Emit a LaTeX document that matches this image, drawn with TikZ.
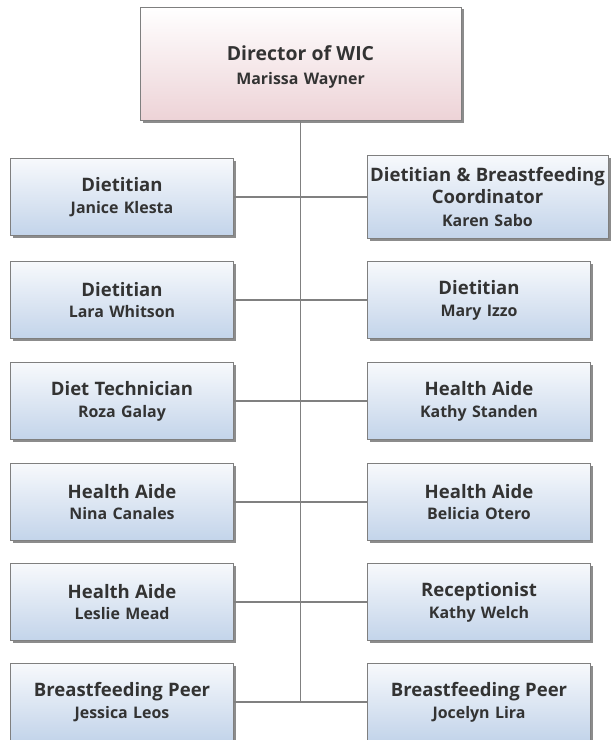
\documentclass[tikz,border=0pt]{standalone}
\usepackage{fontspec}
\setmainfont{Open Sans}
\usetikzlibrary{shadows}
\definecolor{txt}{HTML}{333333}
\definecolor{bordergray}{HTML}{7F7F7F}
\definecolor{linegray}{HTML}{808080}
\definecolor{bluebot}{HTML}{C3D4EA}
\definecolor{bluetop}{HTML}{F7F9FC}
\definecolor{pinkbot}{HTML}{EDD3D7}
\newcommand{\rtitle}{\fontsize{18.6}{24}\selectfont\bfseries}
\newcommand{\rname}{\fontsize{16}{22}\selectfont\bfseries}
\tikzset{
  boxbase/.style={draw=bordergray, line width=0.9bp, align=center, text=txt,
    inner sep=2bp,
    drop shadow={shadow xshift=2.5bp, shadow yshift=-2.5bp, fill=black!60, opacity=0.75}},
  member/.style={boxbase, top color=bluetop, bottom color=bluebot,
    minimum height=77bp, font=\rname},
  leftbox/.style={member, minimum width=223bp, text width=217bp},
  rightbox/.style={member, minimum width=223bp, text width=217bp},
  headbox/.style={boxbase, top color=white, bottom color=pinkbot,
    minimum width=321bp, minimum height=113bp},
  headtext/.style={align=center, text=txt, text width=315bp, inner sep=0pt,
    font=\fontsize{16}{24}\selectfont\bfseries},
  link/.style={draw=linegray, line width=1.1bp}
}
\begin{document}
\begin{tikzpicture}[x=1bp,y=-1bp]
\useasboundingbox (0,0) rectangle (611,740);
\clip (0,0) rectangle (611,740);
\node[headbox] (top) at (300.5,63.5) {};
\node[headtext] (toptext) at (300.5,67) {{\fontsize{19.5}{25}\selectfont Director of WIC}\\Marissa Wayner};
% left column
\node[leftbox] (l1) at (122,197) {{\rtitle Dietitian}\\Janice Klesta};
\node[leftbox] (l2) at (122,300) {{\rtitle Dietitian}\\Lara Whitson};
\node[leftbox] (l3) at (122,401) {{\rtitle Diet Technician}\\Roza Galay};
\node[leftbox] (l4) at (122,502) {{\rtitle Health Aide}\\Nina Canales};
\node[leftbox] (l5) at (122,602) {{\rtitle Health Aide}\\Leslie Mead};
\node[leftbox] (l6) at (122,702) {{\rtitle Breastfeeding Peer}\\Jessica Leos};
% right column
\node[member, minimum width=241bp, minimum height=83bp, text width=237bp] (r1) at (487.5,197) {{\rtitle Dietitian \& Breastfeeding}\\[0bp]{\rtitle Coordinator}\\[1bp]Karen Sabo};
\node[rightbox] (r2) at (479,300) {{\rtitle Dietitian}\\Mary Izzo};
\node[rightbox] (r3) at (479,401) {{\rtitle Health Aide}\\Kathy Standen};
\node[rightbox] (r4) at (479,502) {{\rtitle Health Aide}\\Belicia Otero};
\node[rightbox] (r5) at (479,602) {{\rtitle Receptionist}\\Kathy Welch};
\node[rightbox] (r6) at (479,702) {{\rtitle Breastfeeding Peer}\\Jocelyn Lira};
% connectors
\draw[link] (top.south) -- (top.south |- l6.east);
\foreach \i in {1,...,6} {
  \draw[link] (l\i.east) -- (r\i.west);
}
\end{tikzpicture}
\end{document}
